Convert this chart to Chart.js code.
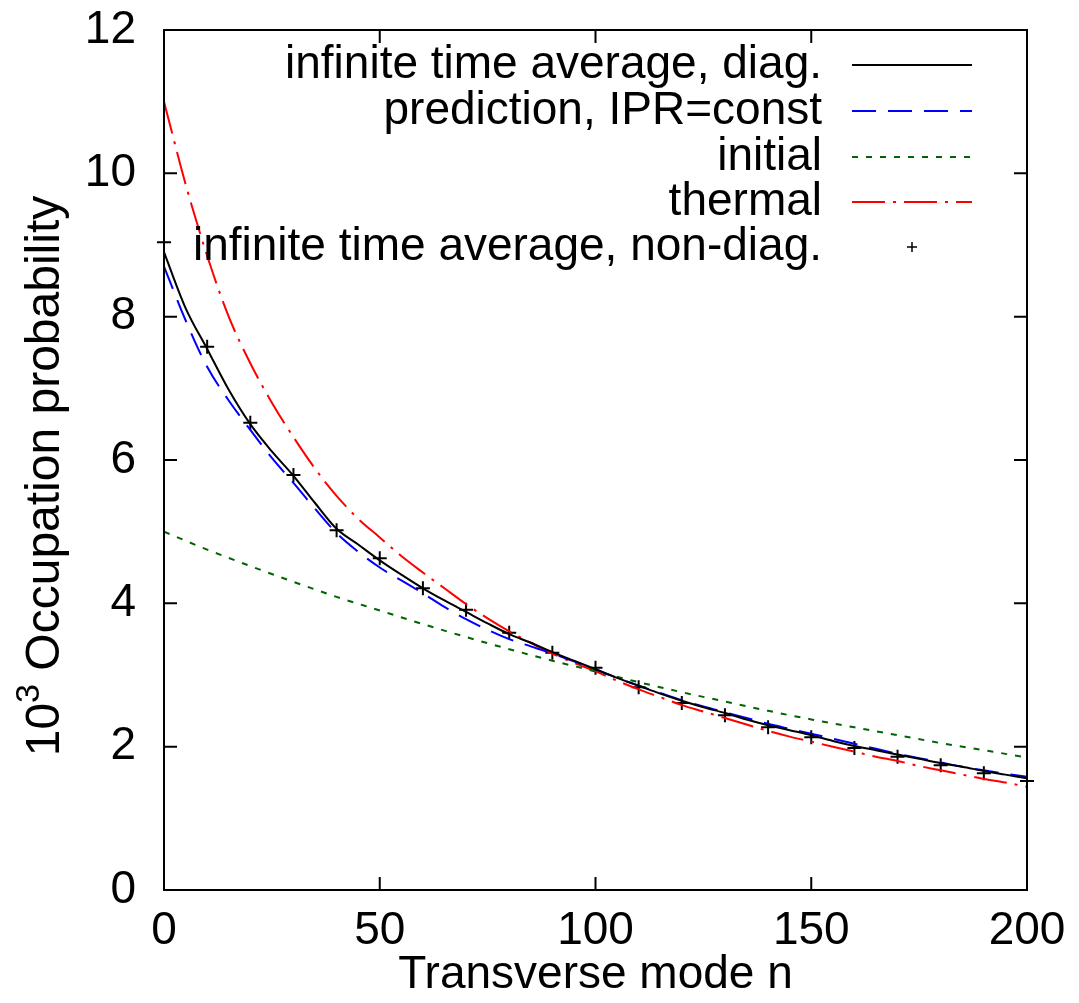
<!DOCTYPE html>
<html>
<head>
<meta charset="utf-8">
<script src="https://cdn.jsdelivr.net/npm/chart.js@4.4.0/dist/chart.umd.min.js"></script>
<style>
  html, body { margin: 0; padding: 0; background: #fff; }
  #wrap { width: 1079px; height: 1003px; }
</style>
</head>
<body>
<div id="wrap"><canvas id="chart"></canvas></div>
<script>
// transverse mode n for the curves
const modesLine = [0, 5, 10, 15, 20, 25, 30, 35, 40, 45, 50, 55, 60, 65, 70, 75, 80, 85, 90, 95, 100,
  105, 110, 115, 120, 125, 130, 135, 140, 145, 150, 155, 160, 165, 170, 175, 180, 185, 190, 195, 200];
const diagAvg = [8.9, 8.12, 7.55, 6.98, 6.5, 6.12, 5.78, 5.4, 5.04, 4.82, 4.6, 4.4, 4.21, 4.04, 3.88, 3.72, 3.57, 3.45, 3.32, 3.2, 3.08,
  2.96, 2.85, 2.74, 2.64, 2.55, 2.47, 2.38, 2.3, 2.23, 2.16, 2.08, 2.01, 1.95, 1.89, 1.83, 1.77, 1.72, 1.66, 1.61, 1.56];
const prediction = [8.7, 7.95, 7.3, 6.83, 6.42, 6.03, 5.68, 5.32, 4.98, 4.72, 4.5, 4.32, 4.14, 3.95, 3.78, 3.63, 3.5, 3.4, 3.3, 3.19, 3.08,
  2.96, 2.85, 2.75, 2.65, 2.56, 2.48, 2.4, 2.32, 2.25, 2.18, 2.11, 2.04, 1.97, 1.9, 1.84, 1.78, 1.72, 1.67, 1.62, 1.58];
const thermal = [11.0, 9.85, 8.85, 8.0, 7.35, 6.8, 6.32, 5.88, 5.5, 5.18, 4.92, 4.66, 4.43, 4.21, 3.99, 3.79, 3.61, 3.45, 3.3, 3.17, 3.05,
  2.92, 2.8, 2.69, 2.58, 2.49, 2.4, 2.31, 2.22, 2.14, 2.07, 2.0, 1.93, 1.86, 1.8, 1.73, 1.67, 1.61, 1.55, 1.5, 1.44];

const modesCoarse = [0, 10, 20, 30, 40, 50, 60, 70, 80, 90, 100, 110, 120, 130, 140, 150, 160, 170, 180, 190, 200];
const initial = [5.0, 4.75, 4.52, 4.3, 4.09, 3.9, 3.71, 3.53, 3.36, 3.2, 3.05, 2.9, 2.76, 2.63, 2.5, 2.38, 2.27, 2.16, 2.05, 1.95, 1.85];
const nonDiag = [9.04, 7.58, 6.52, 5.79, 5.02, 4.63, 4.21, 3.91, 3.59, 3.31, 3.1, 2.83, 2.61, 2.44, 2.27, 2.13, 1.98, 1.86, 1.74, 1.63, 1.52];

const yTicks = [0, 2, 4, 6, 8, 10, 12];
const xTicks = [0, 50, 100, 150, 200];

const FONT = '"Liberation Sans", Arial, Helvetica, sans-serif';

const pts = (xs, ys) => xs.map((x, i) => ({ x: x, y: ys[i] }));

const series = [
  { label: 'infinite time average, diag.', data: pts(modesLine, diagAvg), color: '#000000', dash: [] },
  { label: 'prediction, IPR=const', data: pts(modesLine, prediction), color: '#0000ff', dash: [24, 12] },
  { label: 'initial', data: pts(modesCoarse, initial), color: '#006400', dash: [6, 8] },
  { label: 'thermal', data: pts(modesLine, thermal), color: '#ff0000', dash: [33, 8, 3, 8] }
];

const datasets = series.map(s => ({
  label: s.label,
  data: s.data,
  borderColor: s.color,
  borderWidth: 2,
  borderDash: s.dash,
  pointRadius: 0,
  fill: false,
  cubicInterpolationMode: 'monotone'
}));
datasets.push({
  label: 'infinite time average, non-diag.',
  data: pts(modesCoarse, nonDiag),
  showLine: false,
  pointStyle: 'cross',
  pointRadius: 7,
  borderColor: '#000',
  borderWidth: 2,
  clip: false
});

// gnuplot-like frame, inward ticks on all sides, y title and key
const framePlugin = {
  id: 'frame',
  afterDraw(chart) {
    const ctx = chart.ctx, a = chart.chartArea;
    const xs = chart.scales.x, ys = chart.scales.y;
    ctx.save();
    ctx.strokeStyle = '#000';
    ctx.lineWidth = 2;
    ctx.setLineDash([]);
    ctx.strokeRect(a.left, a.top, a.right - a.left, a.bottom - a.top);
    const tl = 13;
    ctx.beginPath();
    yTicks.forEach(v => {
      const y = ys.getPixelForValue(v);
      ctx.moveTo(a.left, y); ctx.lineTo(a.left + tl, y);
      ctx.moveTo(a.right, y); ctx.lineTo(a.right - tl, y);
    });
    xTicks.forEach(v => {
      const x = xs.getPixelForValue(v);
      ctx.moveTo(x, a.bottom); ctx.lineTo(x, a.bottom - tl);
      ctx.moveTo(x, a.top); ctx.lineTo(x, a.top + tl);
    });
    ctx.stroke();

    // y axis title with superscript
    ctx.fillStyle = '#000';
    ctx.save();
    ctx.translate(59, 476);
    ctx.rotate(-Math.PI / 2);
    ctx.textBaseline = 'alphabetic';
    ctx.textAlign = 'left';
    const big = '48px ' + FONT, small = '34px ' + FONT;
    const p1 = '10', p2 = '3', p3 = ' Occupation probability';
    ctx.font = big;
    const w1 = ctx.measureText(p1).width, w3 = ctx.measureText(p3).width;
    ctx.font = small;
    const w2 = ctx.measureText(p2).width;
    let x = -(w1 + w2 + w3) / 2;
    ctx.font = big; ctx.fillText(p1, x, 0); x += w1;
    ctx.font = small; ctx.fillText(p2, x, -20); x += w2;
    ctx.font = big; ctx.fillText(p3, x, 0);
    ctx.restore();

    // key
    ctx.font = '46px ' + FONT;
    ctx.textAlign = 'right';
    ctx.textBaseline = 'middle';
    ctx.fillStyle = '#000';
    const textRight = 822, x0 = 852, x1 = 972;
    const rows = [65, 111, 157, 202, 247];
    series.forEach((s, i) => {
      ctx.fillText(s.label, textRight, rows[i]);
      ctx.strokeStyle = s.color;
      ctx.setLineDash(s.dash);
      ctx.beginPath();
      ctx.moveTo(x0, rows[i]); ctx.lineTo(x1, rows[i]);
      ctx.stroke();
    });
    ctx.setLineDash([]);
    ctx.fillText(datasets[4].label, textRight, rows[4]);
    ctx.strokeStyle = '#000';
    ctx.lineWidth = 1.5;
    ctx.beginPath();
    ctx.moveTo(912 - 5, rows[4]); ctx.lineTo(912 + 5, rows[4]);
    ctx.moveTo(912, rows[4] - 5); ctx.lineTo(912, rows[4] + 5);
    ctx.stroke();
    ctx.restore();
  }
};

new Chart(document.getElementById('chart'), {
  type: 'line',
  data: { datasets: datasets },
  options: {
    responsive: true,
    maintainAspectRatio: false,
    animation: false,
    devicePixelRatio: 1,
    layout: { padding: { top: 30, right: 52, left: 0, bottom: 0 } },
    plugins: { legend: { display: false }, tooltip: { enabled: false } },
    scales: {
      x: {
        type: 'linear',
        min: 0, max: 200,
        afterBuildTicks: s => { s.ticks = xTicks.map(v => ({ value: v })); },
        afterFit: s => { s.height = 113; s.paddingLeft = 0; s.paddingRight = 0; },
        grid: { display: false, drawTicks: false },
        border: { display: false },
        ticks: { color: '#000', font: { family: FONT, size: 46 }, padding: 14, maxRotation: 0 },
        title: { display: true, text: 'Transverse mode n', color: '#000', font: { family: FONT, size: 46 }, padding: { top: 10, bottom: 0 } }
      },
      y: {
        type: 'linear',
        min: 0, max: 12,
        afterBuildTicks: s => { s.ticks = yTicks.map(v => ({ value: v })); },
        afterFit: s => { s.width = 164; s.paddingTop = 0; s.paddingBottom = 0; },
        grid: { display: false, drawTicks: false },
        border: { display: false },
        ticks: { color: '#000', font: { family: FONT, size: 46 }, padding: 28 }
      }
    }
  },
  plugins: [framePlugin]
});
</script>
</body>
</html>
